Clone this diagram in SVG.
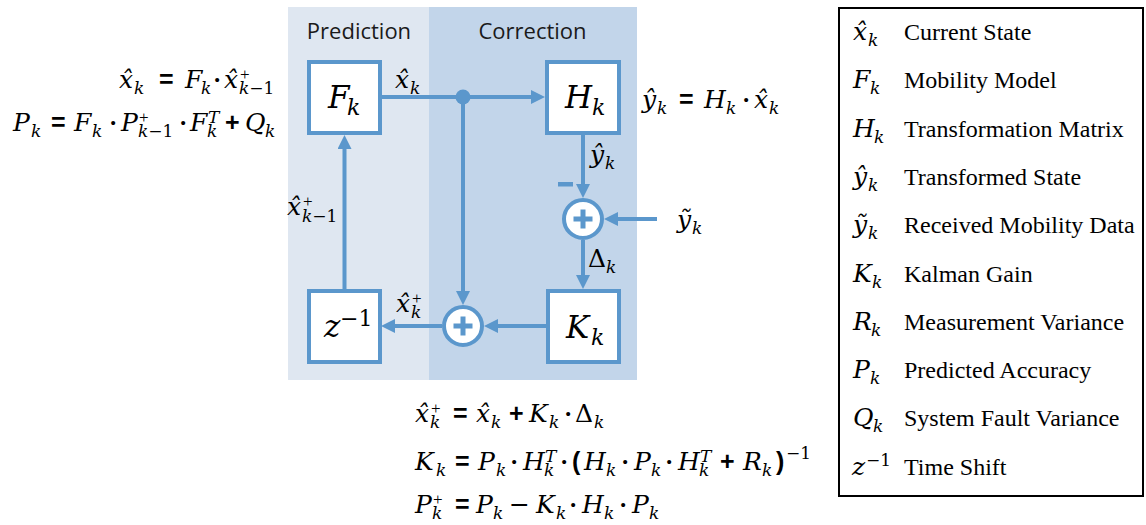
<svg xmlns="http://www.w3.org/2000/svg" width="1146" height="525" viewBox="0 0 1146 525">
<defs>
<style>
.m{font-family:"DejaVu Serif",serif;font-style:italic;font-size:25px;fill:#000}
.s{font-size:17px}
.bx{font-size:31px}
.bs{font-size:22px}
.up{font-style:normal}
.op{font-family:"Liberation Sans",sans-serif;font-weight:bold;font-style:normal}
.pl{font-family:"Liberation Serif",serif;font-style:normal}
.dt{font-family:"Liberation Serif",serif;font-style:normal;font-weight:bold}
.hd{font-family:"Open Sans",sans-serif;font-size:22px;fill:#1a1a1a;text-anchor:middle}
.lt{font-family:"Liberation Serif",serif;font-size:24px;fill:#000}
.box{fill:#fff;stroke:#5b97cc;stroke-width:4}
.cn{stroke:#5b97cc;stroke-width:4;fill:none}
.arr{marker-end:url(#ah)}
.sum{fill:#fff;stroke:#5b97cc;stroke-width:4}
.plus{stroke:#5b97cc;stroke-width:5;fill:none}
</style>
<marker id="ah" viewBox="0 0 14 14" refX="6" refY="7" markerWidth="14" markerHeight="14" markerUnits="userSpaceOnUse" orient="auto">
<path d="M0,0 L14,7 L0,14 z" fill="#5b97cc"/>
</marker>
</defs>

<g id="panels">
<rect x="288" y="7" width="141" height="373" fill="#dfe7f1"/>
<rect x="429" y="7" width="208" height="373" fill="#c2d5ea"/>
<text class="hd" x="359" y="39">Prediction</text>
<text class="hd" x="532.5" y="39">Correction</text>
</g>

<g id="connectors">
<line class="cn arr" x1="382" y1="97" x2="537" y2="97"/>
<line class="cn arr" x1="463" y1="97" x2="463" y2="297"/>
<line class="cn arr" x1="583" y1="133" x2="583" y2="190"/>
<line class="cn arr" x1="657" y1="219" x2="612" y2="219"/>
<line class="cn arr" x1="583" y1="240" x2="583" y2="281"/>
<line class="cn arr" x1="546" y1="326" x2="492" y2="326"/>
<line class="cn arr" x1="442" y1="326" x2="389" y2="326"/>
<line class="cn arr" x1="344.5" y1="289" x2="344.5" y2="143"/>
<circle cx="463" cy="97" r="7.5" fill="#5b97cc"/>
<rect x="558" y="182" width="15" height="4.5" fill="#5b97cc"/>
</g>

<g id="node-F">
<rect class="box" x="309" y="62" width="71" height="71"/>
<text class="m"><tspan class="bx" x="328" y="108">F</tspan><tspan class="bs" x="347" y="115">k</tspan></text>
</g>
<g id="node-H">
<rect class="box" x="547" y="62" width="72" height="71"/>
<text class="m"><tspan class="bx" x="565" y="108">H</tspan><tspan class="bs" x="592" y="115">k</tspan></text>
</g>
<g id="node-z">
<rect class="box" x="309" y="291" width="71" height="71"/>
<text class="m"><tspan class="bx" x="324" y="337">z</tspan><tspan class="bs up" x="340" y="326">−1</tspan></text>
</g>
<g id="node-K">
<rect class="box" x="548" y="291" width="71" height="71"/>
<text class="m"><tspan class="bx" x="566" y="338">K</tspan><tspan class="bs" x="591" y="345">k</tspan></text>
</g>
<g id="node-sum1">
<circle class="sum" cx="583" cy="219" r="19"/>
<path class="plus" d="M573.5,219 H592.5 M583,209.5 V228.5"/>
</g>
<g id="node-sum2">
<circle class="sum" cx="463" cy="326" r="19"/>
<path class="plus" d="M453.5,326 H472.5 M463,316.5 V335.5"/>
</g>

<g id="labels">
<text class="m"><tspan x="395" y="88">x̂</tspan><tspan class="s" x="410" y="94">k</tspan></text>
<text class="m"><tspan x="590" y="163">ŷ</tspan><tspan class="s" x="605" y="169">k</tspan></text>
<text class="m"><tspan x="677" y="228">ỹ</tspan><tspan class="s" x="692" y="234">k</tspan></text>
<text class="m"><tspan class="up" x="588" y="267">Δ</tspan><tspan class="s" x="606" y="273">k</tspan></text>
<text class="m"><tspan x="396" y="312">x̂</tspan><tspan class="s pl" x="412" y="304">+</tspan><tspan class="s" x="411" y="318">k</tspan></text>
<text class="m"><tspan x="287" y="215">x̂</tspan><tspan class="s pl" x="303" y="207">+</tspan><tspan class="s" x="302" y="222">k<tspan class="up">−1</tspan></tspan></text>
</g>

<g id="eq-predict">
<text class="m"><tspan x="119" y="88">x̂</tspan><tspan class="s" x="134" y="94">k</tspan><tspan class="op" x="159" y="88">=</tspan><tspan x="185" y="88">F</tspan><tspan class="s" x="201" y="94">k</tspan><tspan class="dt" x="213" y="88">·</tspan><tspan x="224" y="88">x̂</tspan><tspan class="s pl" x="240" y="80">+</tspan><tspan class="s" x="239" y="94">k<tspan class="up">−1</tspan></tspan></text>
<text class="m"><tspan x="13" y="131">P</tspan><tspan class="s" x="31" y="137">k</tspan><tspan class="op" x="51" y="131">=</tspan><tspan x="74" y="131">F</tspan><tspan class="s" x="92" y="137">k</tspan><tspan class="dt" x="109" y="131">·</tspan><tspan x="121" y="131">P</tspan><tspan class="s pl" x="139" y="123">+</tspan><tspan class="s" x="138" y="137">k<tspan class="up">−1</tspan></tspan><tspan class="dt" x="179" y="131">·</tspan><tspan x="190" y="131">F</tspan><tspan class="s" x="208" y="123">T</tspan><tspan class="s" x="207" y="137">k</tspan><tspan class="op" x="225" y="131">+</tspan><tspan x="245" y="131">Q</tspan><tspan class="s" x="265" y="137">k</tspan></text>
</g>

<g id="eq-measure">
<text class="m"><tspan x="642" y="108">ŷ</tspan><tspan class="s" x="657" y="114">k</tspan><tspan class="op" x="679" y="108">=</tspan><tspan x="704" y="108">H</tspan><tspan class="s" x="726" y="114">k</tspan><tspan class="dt" x="742" y="108">·</tspan><tspan x="754" y="108">x̂</tspan><tspan class="s" x="769" y="114">k</tspan></text>
</g>

<g id="eq-correct">
<text class="m"><tspan x="415" y="422">x̂</tspan><tspan class="s pl" x="431" y="414">+</tspan><tspan class="s" x="430" y="428">k</tspan><tspan class="op" x="453" y="422">=</tspan><tspan x="476" y="422">x̂</tspan><tspan class="s" x="491" y="428">k</tspan><tspan class="op" x="509" y="422">+</tspan><tspan x="529" y="422">K</tspan><tspan class="s" x="549" y="428">k</tspan><tspan class="dt" x="564" y="422">·</tspan><tspan class="up" x="575" y="422">Δ</tspan><tspan class="s" x="594" y="428">k</tspan></text>
<text class="m"><tspan x="415" y="470">K</tspan><tspan class="s" x="436" y="476">k</tspan><tspan class="op" x="455" y="470">=</tspan><tspan x="478" y="470">P</tspan><tspan class="s" x="496" y="476">k</tspan><tspan class="dt" x="510" y="470">·</tspan><tspan x="523" y="470">H</tspan><tspan class="s" x="545" y="462">T</tspan><tspan class="s" x="544" y="476">k</tspan><tspan class="dt" x="560" y="470">·</tspan><tspan class="op" x="572" y="470">(</tspan><tspan x="584" y="470">H</tspan><tspan class="s" x="606" y="476">k</tspan><tspan class="dt" x="621" y="470">·</tspan><tspan x="634" y="470">P</tspan><tspan class="s" x="651" y="476">k</tspan><tspan class="dt" x="665" y="470">·</tspan><tspan x="678" y="470">H</tspan><tspan class="s" x="700" y="462">T</tspan><tspan class="s" x="699" y="476">k</tspan><tspan class="op" x="720" y="470">+</tspan><tspan x="743" y="470">R</tspan><tspan class="s" x="762" y="476">k</tspan><tspan class="op" x="776" y="470">)</tspan><tspan class="s up" x="786" y="459">−1</tspan></text>
<text class="m"><tspan x="415" y="513">P</tspan><tspan class="s pl" x="433" y="505">+</tspan><tspan class="s" x="432" y="519">k</tspan><tspan class="op" x="455" y="513">=</tspan><tspan x="476" y="513">P</tspan><tspan class="s" x="493" y="519">k</tspan><tspan class="up" x="509" y="513">−</tspan><tspan x="536" y="513">K</tspan><tspan class="s" x="556" y="519">k</tspan><tspan class="dt" x="569" y="513">·</tspan><tspan x="582" y="513">H</tspan><tspan class="s" x="604" y="519">k</tspan><tspan class="dt" x="619" y="513">·</tspan><tspan x="632" y="513">P</tspan><tspan class="s" x="649" y="519">k</tspan></text>
</g>

<g id="legend">
<rect x="839" y="8" width="304" height="488" fill="#fff" stroke="#000" stroke-width="2"/>
<text class="m"><tspan x="853" y="40">x̂</tspan><tspan class="s" x="868" y="46">k</tspan></text>
<text class="lt" x="904" y="40">Current State</text>
<text class="m"><tspan x="853" y="88.3">F</tspan><tspan class="s" x="870" y="94.3">k</tspan></text>
<text class="lt" x="904" y="88.3">Mobility Model</text>
<text class="m"><tspan x="853" y="136.6">H</tspan><tspan class="s" x="874" y="142.6">k</tspan></text>
<text class="lt" x="904" y="136.6">Transformation Matrix</text>
<text class="m"><tspan x="853" y="184.9">ŷ</tspan><tspan class="s" x="868" y="190.9">k</tspan></text>
<text class="lt" x="904" y="184.9">Transformed State</text>
<text class="m"><tspan x="853" y="233.2">ỹ</tspan><tspan class="s" x="868" y="239.2">k</tspan></text>
<text class="lt" x="904" y="233.2">Received Mobility Data</text>
<text class="m"><tspan x="853" y="281.5">K</tspan><tspan class="s" x="872" y="287.5">k</tspan></text>
<text class="lt" x="904" y="281.5">Kalman Gain</text>
<text class="m"><tspan x="853" y="329.8">R</tspan><tspan class="s" x="871" y="335.8">k</tspan></text>
<text class="lt" x="904" y="329.8">Measurement Variance</text>
<text class="m"><tspan x="853" y="378.1">P</tspan><tspan class="s" x="870" y="384.1">k</tspan></text>
<text class="lt" x="904" y="378.1">Predicted Accuracy</text>
<text class="m"><tspan x="853" y="426.4">Q</tspan><tspan class="s" x="873" y="432.4">k</tspan></text>
<text class="lt" x="904" y="426.4">System Fault Variance</text>
<text class="m"><tspan x="852" y="474.7">z</tspan><tspan class="s up" x="866" y="466">−1</tspan></text>
<text class="lt" x="904" y="474.7">Time Shift</text>
</g>
</svg>
